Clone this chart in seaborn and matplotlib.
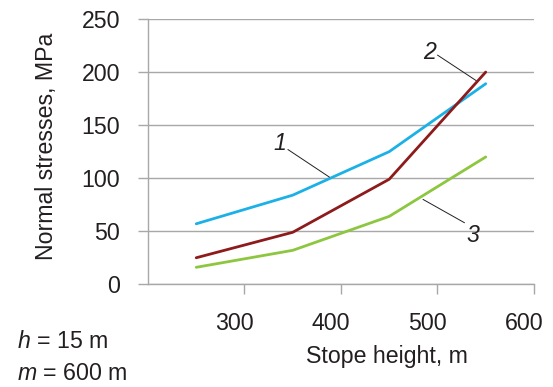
import numpy as np
import pandas as pd
import matplotlib.pyplot as plt
import seaborn as sns
from matplotlib.transforms import ScaledTranslation

sns.set_style("white")
plt.rcParams["font.family"] = ["Liberation Sans", "DejaVu Sans"]
plt.rcParams["mathtext.fontset"] = "custom"
plt.rcParams["mathtext.it"] = "Liberation Sans:italic"
plt.rcParams["mathtext.rm"] = "Liberation Sans"

# data
stope_height = [250, 350, 450, 550]
curve_1 = [57, 84, 125, 189]
curve_2 = [25, 49, 99, 200]
curve_3 = [16, 32, 64, 120]
curve_names = ["1", "2", "3"]
x_ticks = [300, 400, 500, 600]
y_ticks = [0, 50, 100, 150, 200, 250]

df = pd.DataFrame({
    "height": stope_height * 3,
    "stress": curve_1 + curve_2 + curve_3,
    "curve": np.repeat(curve_names, len(stope_height)),
})

colors = {"1": "#1BB1E7", "2": "#8E1B1B", "3": "#8DC63F"}
grey = "#A8A8A8"
ink = "#231F20"
fs = 16.7

fig = plt.figure(figsize=(5.53, 3.87), dpi=100)
ax = fig.add_axes([0.2676, 0.2654, 0.698, 0.6855])

sns.lineplot(data=df, x="height", y="stress", hue="curve", palette=colors,
             linewidth=2.0, legend=False, ax=ax)

ax.set_xlim(200, 600)
ax.set_ylim(0, 250)
ax.set_xticks(x_ticks)
ax.set_yticks(y_ticks)
ax.yaxis.grid(True, color=grey, linewidth=1)
ax.set_axisbelow(True)

for s in ["top", "right"]:
    ax.spines[s].set_visible(False)
for s in ["left", "bottom"]:
    ax.spines[s].set_color(grey)
    ax.spines[s].set_linewidth(1)

ax.tick_params(axis="both", colors=grey, labelcolor=ink,
               labelsize=fs, length=7, width=1, direction="out")
ax.tick_params(axis="x", pad=13)
ax.tick_params(axis="y", pad=13)
ax.xaxis.set_ticks_position("bottom")
ax.yaxis.set_ticks_position("left")

# x tick labels sit a bit left of their ticks
shift = ScaledTranslation(-10 / 100, 0, fig.dpi_scale_trans)
for lab in ax.get_xticklabels():
    lab.set_transform(lab.get_transform() + shift)

ax.set_xlabel("Stope height, m", fontsize=fs, color=ink, va="center")
ax.xaxis.set_label_coords(0.62, -0.274)
ax.set_ylabel("Normal stresses, MPa", fontsize=fs, color=ink, va="center")
ax.yaxis.set_label_coords(-0.262, 0.52)

# curve labels with leader lines
lead = dict(arrowstyle="-", color=ink, lw=0.7, shrinkA=0, shrinkB=0)
ax.annotate("", xy=(388, 101), xytext=(345, 127), arrowprops=lead)
ax.text(337, 133, "1", fontsize=fs, style="italic", ha="center", va="center", color=ink)
ax.annotate("", xy=(540, 192), xytext=(500, 216), arrowprops=lead)
ax.text(492, 218, "2", fontsize=fs, style="italic", ha="center", va="center", color=ink)
ax.annotate("", xy=(528, 58), xytext=(485, 80), arrowprops=lead)
ax.text(537, 46, "3", fontsize=fs, style="italic", ha="center", va="center", color=ink)

fig.text(17 / 553, 1 - 341 / 387, r"$h$ = 15 m", fontsize=fs, va="center", color=ink)
fig.text(17 / 553, 1 - 373 / 387, r"$m$ = 600 m", fontsize=fs, va="center", color=ink)

fig.savefig("out.png", dpi=100)
